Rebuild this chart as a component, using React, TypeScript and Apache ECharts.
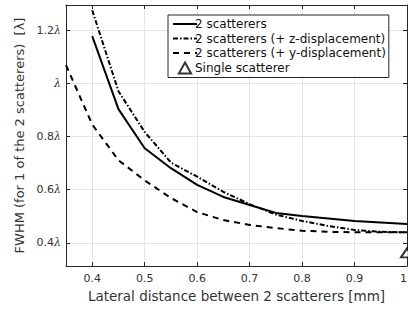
import React, { useEffect, useRef } from 'react';
import * as echarts from 'echarts';

const xValues = [0.4, 0.45, 0.5, 0.55, 0.6, 0.65, 0.7, 0.75, 0.8, 0.85, 0.9, 0.95, 1.0];
const solidY = [1.177, 0.903, 0.756, 0.681, 0.618, 0.573, 0.543, 0.513, 0.501, 0.492, 0.483, 0.477, 0.471];
const zDispY = [1.274, 0.97, 0.817, 0.702, 0.649, 0.592, 0.546, 0.507, 0.483, 0.464, 0.449, 0.442, 0.44];
const yDispX = [0.35, 0.4, 0.45, 0.5, 0.55, 0.6, 0.65, 0.7, 0.75, 0.8, 0.85, 0.9, 0.95, 1.0];
const yDispY = [1.068, 0.845, 0.711, 0.635, 0.569, 0.516, 0.486, 0.468, 0.456, 0.446, 0.442, 0.44, 0.44, 0.44];
const singleX = [1.0];
const singleY = [0.363];
const xTicks = [0.4, 0.5, 0.6, 0.7, 0.8, 0.9, 1.0];
const yTicks = [0.4, 0.6, 0.8, 1.0, 1.2];
const names = [
  '2 scatterers',
  '2 scatterers (+ z-displacement)',
  '2 scatterers (+ y-displacement)',
  'Single scatterer',
];
const xName = 'Lateral distance between 2 scatterers [mm]';
const yName = 'FWHM (for 1 of the 2 scatterers)  [λ]';

const FONT = 'DejaVu Sans';
const AX = '#262626';
const GRID = '#e5e5e5';

export default function App() {
  const ref = useRef<HTMLDivElement>(null);
  useEffect(() => {
    if (!ref.current) return;
    const chart = echarts.init(ref.current, null, { renderer: 'svg', width: 408, height: 310 });
    const pair = (xs: number[], ys: number[]) => xs.map((x, i) => [x, ys[i]]);
    const axisLine = { show: true, onZero: false, lineStyle: { color: AX, width: 1 } };
    chart.setOption({
      animation: false,
      backgroundColor: '#fff',
      textStyle: { fontFamily: FONT },
      grid: { left: 66, top: 5, width: 341, height: 261, containLabel: false, outerBoundsMode: 'none' },
      xAxis: [
        {
          type: 'value',
          min: 0.35,
          max: 1,
          position: 'bottom',
          axisLine,
          axisTick: { show: true, inside: true, length: 4, customValues: xTicks, lineStyle: { color: AX } },
          axisLabel: {
            customValues: xTicks,
            formatter: (v: number) => (v === 1 ? '1' : v.toFixed(1)),
            fontSize: 11,
            color: '#333',
            margin: 7,
            fontFamily: FONT,
            alignMaxLabel: 'right',
          },
          splitLine: { show: true, lineStyle: { color: GRID, width: 1 } },
          name: xName,
          nameLocation: 'middle',
          nameGap: 19,
          nameTextStyle: { fontSize: 13.5, color: '#333', fontFamily: FONT },
        },
        {
          type: 'value',
          min: 0.35,
          max: 1,
          position: 'top',
          axisLine,
          axisTick: { show: true, inside: true, length: 4, customValues: xTicks, lineStyle: { color: AX } },
          axisLabel: { show: false },
          splitLine: { show: false },
        },
      ],
      yAxis: [
        {
          type: 'value',
          min: 0.3136,
          max: 1.2939,
          position: 'left',
          axisLine,
          axisTick: { show: true, inside: true, length: 4, customValues: yTicks, lineStyle: { color: AX } },
          axisLabel: {
            customValues: yTicks,
            formatter: (v: number) => (Math.abs(v - 1) < 1e-9 ? '{l|λ}' : `${v.toFixed(1)}{l|λ}`),
            fontSize: 11,
            color: '#333',
            margin: 5,
            fontFamily: FONT,
            rich: {
              l: { fontFamily: 'DejaVu Serif', fontStyle: 'italic', fontSize: 11, color: '#333' },
            },
          },
          splitLine: { show: true, lineStyle: { color: GRID, width: 1 } },
          name: yName,
          nameLocation: 'middle',
          nameGap: 33,
          nameTextStyle: { fontSize: 13, color: '#333', fontFamily: FONT },
        },
        {
          type: 'value',
          min: 0.3136,
          max: 1.2939,
          position: 'right',
          axisLine,
          axisTick: { show: true, inside: true, length: 4, customValues: yTicks, lineStyle: { color: AX } },
          axisLabel: { show: false },
          splitLine: { show: false },
        },
      ],
      legend: {
        orient: 'vertical',
        left: 168,
        top: 15,
        backgroundColor: '#fff',
        borderColor: AX,
        borderWidth: 1,
        borderRadius: 0,
        padding: [3, 3, 3, 4],
        itemWidth: 24,
        itemHeight: 11,
        itemGap: 2.5,
        textStyle: { fontSize: 12, lineHeight: 12, color: '#111', fontFamily: FONT, padding: [0, 0, 0, -7] },
        data: [
          { name: names[0], itemStyle: { opacity: 0 } },
          { name: names[1], itemStyle: { opacity: 0 } },
          { name: names[2], itemStyle: { opacity: 0 } },
          { name: names[3], icon: 'path://M5,0 L10,9 L0,9 Z' },
        ],
      },
      series: [
        {
          name: names[0],
          type: 'line',
          data: pair(xValues, solidY),
          symbol: 'none',
          lineStyle: { color: '#000', width: 2, type: 'solid' },
          itemStyle: { color: '#000' },
        },
        {
          name: names[1],
          type: 'line',
          data: pair(xValues, zDispY),
          symbol: 'none',
          lineStyle: { color: '#000', width: 2, type: [5, 2, 1.5, 2] },
          itemStyle: { color: '#000' },
        },
        {
          name: names[2],
          type: 'line',
          data: pair(yDispX, yDispY),
          symbol: 'none',
          lineStyle: { color: '#000', width: 2, type: [6, 5] },
          itemStyle: { color: '#000' },
        },
        {
          name: names[3],
          type: 'scatter',
          data: pair(singleX, singleY),
          symbol: 'triangle',
          symbolSize: [12, 9],
          clip: false,
          itemStyle: { color: '#fff', borderColor: '#000', borderWidth: 2 },
        },
      ],
    });
    return () => chart.dispose();
  }, []);
  return (
    <div
      ref={ref}
      style={{ position: 'fixed', left: 0, top: 0, width: 408, height: 310, background: '#fff' }}
    />
  );
}
